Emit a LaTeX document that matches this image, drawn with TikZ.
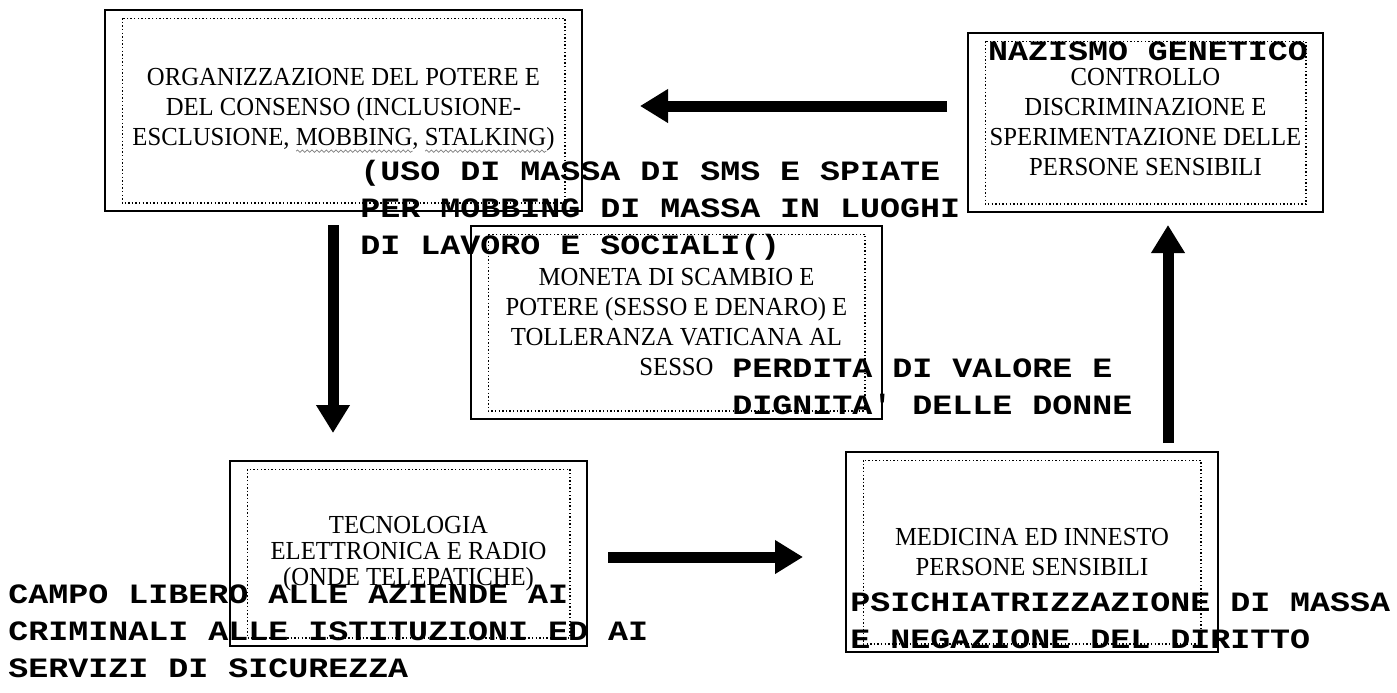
\documentclass[tikz,border=0pt]{standalone}
\usepackage{fontspec}
\setmainfont[FakeStretch=0.95]{Liberation Serif}
\newfontfamily\notefont[FakeStretch=1.19]{Liberation Mono}
\usetikzlibrary{arrows.meta, positioning, calc, decorations.pathmorphing}

\newlength{\squigwd}
\newcommand{\squig}[1]{\settowidth{\squigwd}{#1}\makebox[0pt][l]{\tikz[baseline=0pt]\draw[line width=0.35pt, gray, decorate, decoration={snake, amplitude=0.6pt, segment length=2.4pt}] (0pt,-2.8pt) -- (\squigwd,-2.8pt);}#1}

\begin{document}
\begin{tikzpicture}[
    x=0.5pt, y=-0.5pt,
    box/.style={rectangle, draw, line width=0.9pt, align=center, inner sep=0pt, font={\fontsize{13}{15}\selectfont}},
    inbox/.style={draw, line width=0.6pt, dash pattern=on 0.7pt off 1.1pt},
    note/.style={align=left, inner sep=0pt, anchor=west, font={\notefont\bfseries\fontsize{14}{18.5}\selectfont}},
    arrow/.style={-{Triangle[length=14pt, width=16pt]}, line width=5.5pt}
]
    \path[fill=white] (0,0) rectangle (1397,692);
    \useasboundingbox (0,0) rectangle (1397,692);

    % Boxes
    \node[box, minimum width=238.5pt, minimum height=100.5pt] (org) at (343.5,110.5)
        {ORGANIZZAZIONE DEL POTERE E\\DEL CONSENSO (INCLUSIONE-\\ESCLUSIONE, \squig{MOBBING}, \squig{STALKING})};
    \node[box, minimum width=177.5pt, minimum height=89.5pt] (naz) at (1145.5,122.5)
        {CONTROLLO\\DISCRIMINAZIONE E\\SPERIMENTAZIONE DELLE\\PERSONE SENSIBILI};
    \node[box, minimum width=205.5pt, minimum height=96.5pt] (moneta) at (676.5,322.5)
        {MONETA DI SCAMBIO E\\POTERE (SESSO E DENARO) E\\TOLLERANZA VATICANA AL\\SESSO};
    \node[box, minimum width=178.5pt, minimum height=92.5pt, font={\fontsize{13}{13}\selectfont}] (tecno) at (408.5,553.5)
        {TECNOLOGIA\\ELETTRONICA E RADIO\\(ONDE TELEPATICHE)};
    \node[box, minimum width=186pt, minimum height=100pt] (medic) at (1032,552)
        {MEDICINA ED INNESTO\\PERSONE SENSIBILI};

    % Dotted frames
    \foreach \b in {org, naz, moneta, tecno, medic}
        \draw[inbox] ($(\b.north west)+(18,9)$) rectangle ($(\b.south east)+(-18,-9)$);

    % Notes
    \node[note, anchor=center] (nazt) at (1148,51) {NAZISMO GENETICO};
    \node[note] (uso) at (360,210) {(USO DI MASSA DI SMS E SPIATE\\PER MOBBING DI MASSA IN LUOGHI\\DI LAVORO E SOCIALI()};
    \node[note] (perdita) at (732,386.5) {PERDITA DI VALORE E\\DIGNITA' DELLE DONNE};
    \node[note] (campo) at (8,631) {CAMPO LIBERO ALLE AZIENDE AI\\CRIMINALI ALLE ISTITUZIONI ED AI\\SERVIZI DI SICUREZZA};
    \node[note] (psi) at (850,620.5) {PSICHIATRIZZAZIONE DI MASSA\\E NEGAZIONE DEL DIRITTO};

    % Arrow ends
    \coordinate (fromnaz) at (947,106);
    \coordinate (toorg) at (640,106);
    \coordinate (fromorg) at (333,225);
    \coordinate (totecno) at (333,433);
    \coordinate (fromtecno) at (608,557);
    \coordinate (tomedic) at (803,557);
    \coordinate (frommedic) at (1168,443);
    \coordinate (tonaz) at (1168,225);

    % Arrows
    \draw[arrow] (fromnaz) -- (toorg);
    \draw[arrow] (fromorg) -- (totecno);
    \draw[arrow] (fromtecno) -- (tomedic);
    \draw[arrow] (frommedic) -- (tonaz);
\end{tikzpicture}
\end{document}
